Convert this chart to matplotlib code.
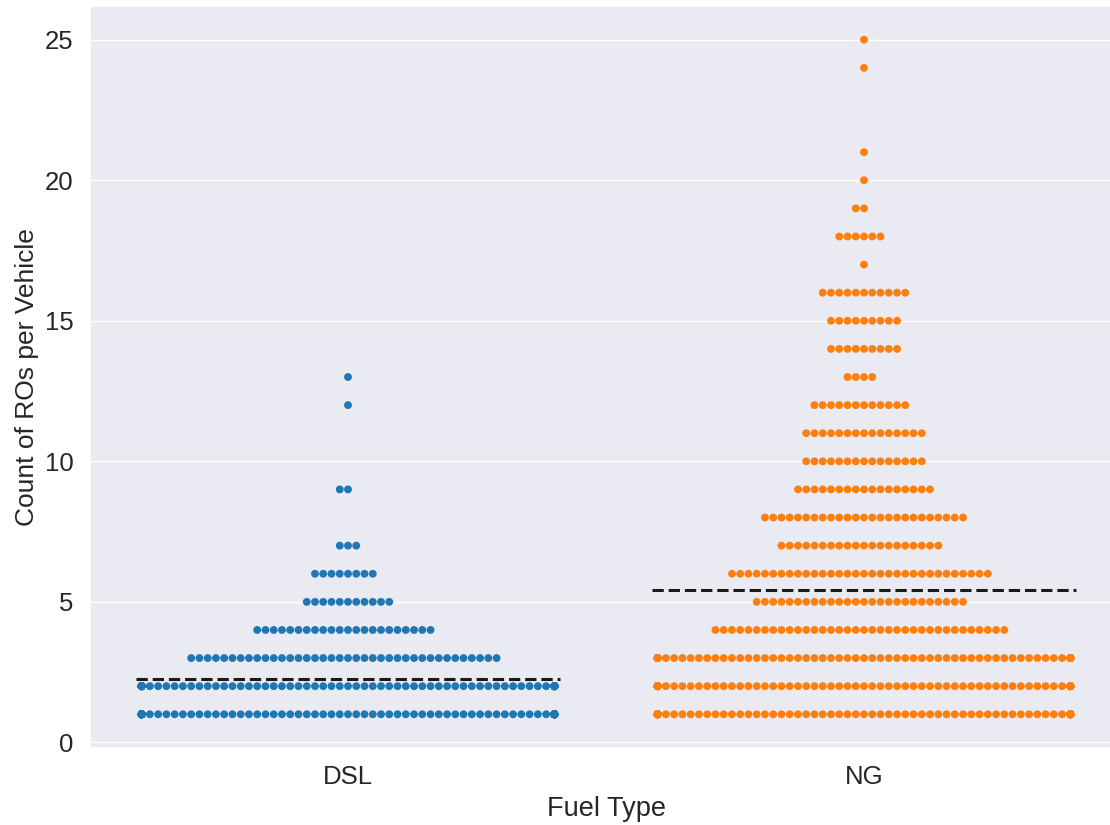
import numpy as np
import pandas as pd
import matplotlib
matplotlib.use("Agg")
import matplotlib.pyplot as plt
import seaborn as sns

# repair-order counts per vehicle, tallied by fuel type
dsl_values = [1, 2, 3, 4, 5, 6, 7, 9, 12, 13]
dsl_counts = [115, 105, 38, 22, 11, 8, 3, 2, 1, 1]

ng_values = [1, 2, 3, 4, 5, 6, 7, 8, 9, 10, 11, 12, 13, 14, 15, 16, 17, 18, 19, 20, 21, 24, 25]
ng_counts = [84, 81, 76, 36, 26, 32, 20, 25, 17, 15, 15, 12, 4, 9, 9, 11, 1, 6, 2, 1, 1, 1, 1]

fuel_types = ["DSL", "NG"]
colors = ["#1f77b4", "#ff7f0e"]

df = pd.DataFrame({
    "Fuel Type": ["DSL"] * sum(dsl_counts) + ["NG"] * sum(ng_counts),
    "Count of ROs per Vehicle": np.concatenate([
        np.repeat(dsl_values, dsl_counts),
        np.repeat(ng_values, ng_counts),
    ]),
})

sns.set_theme(style="darkgrid")
plt.rcParams["font.family"] = ["Liberation Sans", "DejaVu Sans"]
plt.rcParams["xtick.labelsize"] = 18.5
plt.rcParams["ytick.labelsize"] = 18.5
plt.rcParams["axes.labelsize"] = 19.5

fig = plt.figure(figsize=(11.1, 8.25), dpi=100)
ax = fig.add_axes([90 / 1110, 77 / 825, 1032 / 1110, 742 / 825])

sns.swarmplot(data=df, x="Fuel Type", y="Count of ROs per Vehicle",
              hue="Fuel Type", palette=colors, order=fuel_types,
              size=5.66, linewidth=0, legend=False, ax=ax)

# mean line across each swarm
means = df.groupby("Fuel Type")["Count of ROs per Vehicle"].mean()
for i, ft in enumerate(fuel_types):
    ax.plot([i - 0.41, i + 0.41], [means[ft], means[ft]], ls="--",
            color="#1a1a1a", lw=2.2, zorder=5)

ax.set_xlim(-0.5, 1.5)
ax.set_ylim(-0.2, 26.2)
ax.set_yticks([0, 5, 10, 15, 20, 25])
ax.tick_params(axis="y", pad=6)
ax.tick_params(axis="x", pad=6)
ax.set_ylabel("Count of ROs per Vehicle", fontsize=19)
ax.set_xlabel("Fuel Type", labelpad=5)

fig.savefig("out.png", dpi=100)
